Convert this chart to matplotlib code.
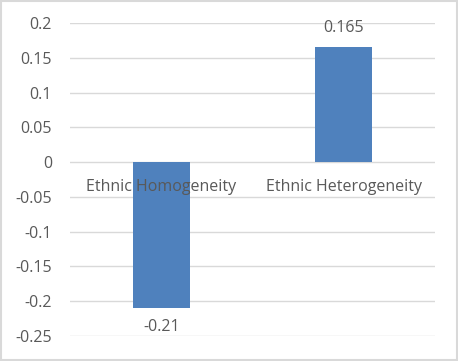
import matplotlib.pyplot as plt
from matplotlib.patches import Rectangle

categories = ["Ethnic Homogeneity", "Ethnic Heterogeneity"]
values = [-0.21, 0.165]
value_labels = ["-0.21", "0.165"]
yticks = [-0.25, -0.2, -0.15, -0.1, -0.05, 0, 0.05, 0.1, 0.15, 0.2]
ytick_labels = ["-0.25", "-0.2", "-0.15", "-0.1", "-0.05", "0", "0.05", "0.1", "0.15", "0.2"]

plt.rcParams['font.family'] = ['Open Sans', 'DejaVu Sans']
text_col = '#595959'
fs = 11.5

fig = plt.figure(figsize=(4.58, 3.61), dpi=100)
ax = fig.add_axes([0.1528, 0.0693, 0.797, 0.867])

x = list(range(len(categories)))
ax.bar(x, values, width=0.31, color='#4F81BD', zorder=3)

ax.set_xlim(-0.5, len(categories) - 0.5)
ax.set_ylim(-0.25, 0.2)
ax.set_yticks(yticks)
ax.set_yticklabels(ytick_labels, fontsize=fs, color=text_col)
ax.set_xticks([])
ax.tick_params(axis='y', length=0, pad=13)
ax.grid(axis='y', color='#D9D9D9', linewidth=1, zorder=0)
for s in ax.spines.values():
    s.set_visible(False)

for i, (v, lab) in enumerate(zip(values, value_labels)):
    off = 8 if v > 0 else -8
    ax.annotate(lab, (i, v), xytext=(0, off), textcoords='offset points',
                ha='center', va='bottom' if v > 0 else 'top',
                fontsize=fs, color=text_col)
    ax.annotate(categories[i], (i, 0), xytext=(0, -18), textcoords='offset points',
                ha='center', va='center', fontsize=fs, color=text_col, zorder=4)

fig.patches.append(Rectangle((0.002, 0.003), 0.995, 0.993, transform=fig.transFigure,
                             fill=False, edgecolor='#D9D9D9', linewidth=1.5))

fig.savefig('out.png', dpi=100)
